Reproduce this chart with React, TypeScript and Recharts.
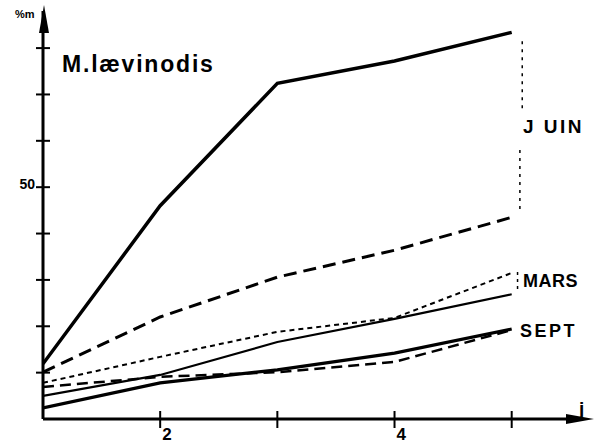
import React from "react";
import { LineChart, Line, XAxis, YAxis, ReferenceLine } from "recharts";

const DAYS = [1, 2, 3, 4, 5];
const JUIN_SOLID = [11.9, 46, 72.4, 77.2, 83.4];
const JUIN_DASHED = [10.1, 22, 30.6, 36.4, 43.5];
const MARS_DOTTED = [7.8, 13.4, 18.8, 21.8, 31.5];
const MARS_SOLID = [5.0, 9.5, 16.6, 21.6, 26.9];
const SEPT_SOLID = [2.4, 7.8, 10.6, 14.2, 19.4];
const SEPT_DASHED = [6.9, 9.1, 10.1, 12.3, 19.2];

const Y_TICKS = [10, 20, 30, 40, 50, 60, 70, 80];
const X_TICKS = [2, 3, 4, 5];
const X_LABELS: Record<number, string> = { 2: "2", 4: "4" };
const Y_LABELS: Record<number, string> = { 50: "50" };

const data = DAYS.map((d, i) => ({
  day: d,
  juinSolid: JUIN_SOLID[i],
  juinDashed: JUIN_DASHED[i],
  marsDotted: MARS_DOTTED[i],
  marsSolid: MARS_SOLID[i],
  septSolid: SEPT_SOLID[i],
  septDashed: SEPT_DASHED[i]
}));

const FONT = "'Liberation Sans', Arial, sans-serif";

const XTick = (props: any) => {
  const { x, y, payload } = props;
  const label = X_LABELS[payload.value];
  return (
    <g>
      <line x1={x} x2={x} y1={y - 8} y2={y + 9} stroke="#000" strokeWidth={2} />
      {label && (
        <text x={x + 2} y={y + 21} fontSize={17} fontWeight="bold" fontFamily={FONT} fill="#000">
          {label}
        </text>
      )}
    </g>
  );
};

const YTick = (props: any) => {
  const { x, y, payload } = props;
  const label = Y_LABELS[payload.value];
  return (
    <g>
      <line x1={x - 7} x2={x + 7} y1={y} y2={y} stroke="#000" strokeWidth={2} />
      {label && (
        <text x={x - 8} y={y + 2} textAnchor="end" fontSize={14} fontWeight="bold" fontFamily={FONT} fill="#000">
          {label}
        </text>
      )}
    </g>
  );
};

export default function App() {
  return (
    <div style={{ position: "absolute", left: 0, top: 0, width: 603, height: 443, background: "#fff" }}>
      <LineChart
        width={603}
        height={443}
        data={data}
        margin={{ top: 11, right: 21, bottom: 23, left: 42 }}
      >
        <XAxis
          type="number"
          dataKey="day"
          domain={[1, 5.6]}
          ticks={X_TICKS}
          allowDataOverflow
          height={1}
          tickSize={0}
          tickMargin={0}
          tickLine={false}
          tick={<XTick />}
          axisLine={{ stroke: "#000", strokeWidth: 3 }}
        />
        <YAxis
          type="number"
          domain={[0, 88]}
          ticks={Y_TICKS}
          allowDataOverflow
          width={1}
          tickSize={0}
          tickMargin={0}
          tickLine={false}
          tick={<YTick />}
          axisLine={{ stroke: "#000", strokeWidth: 3 }}
        />
        <ReferenceLine
          segment={[{ x: 5.09, y: 81.5 }, { x: 5.09, y: 66.6 }]}
          stroke="#000"
          strokeWidth={1.5}
          strokeDasharray="3 5"
        />
        <ReferenceLine
          segment={[{ x: 5.07, y: 58 }, { x: 5.07, y: 44.6 }]}
          stroke="#000"
          strokeWidth={1.5}
          strokeDasharray="3 5"
        />
        <ReferenceLine
          segment={[{ x: 5.05, y: 31.7 }, { x: 5.05, y: 27.4 }]}
          stroke="#000"
          strokeWidth={1.5}
          strokeDasharray="3 4"
        />
        <Line dataKey="juinSolid" stroke="#000" strokeWidth={3.5} dot={false} isAnimationActive={false} />
        <Line dataKey="juinDashed" stroke="#000" strokeWidth={3} strokeDasharray="13 7" dot={false} isAnimationActive={false} />
        <Line dataKey="marsDotted" stroke="#000" strokeWidth={2} strokeDasharray="5 4" dot={false} isAnimationActive={false} />
        <Line dataKey="marsSolid" stroke="#000" strokeWidth={2.2} dot={false} isAnimationActive={false} />
        <Line dataKey="septSolid" stroke="#000" strokeWidth={3.2} dot={false} isAnimationActive={false} />
        <Line dataKey="septDashed" stroke="#000" strokeWidth={2.5} strokeDasharray="11 6" dot={false} isAnimationActive={false} />
      </LineChart>
      <svg
        width={603}
        height={443}
        style={{ position: "absolute", left: 0, top: 0, pointerEvents: "none" }}
      >
        <polygon points="44,5 39,33 49,33" fill="#000" />
        <polygon points="594,419 566,414 566,424" fill="#000" />
        <g fontFamily={FONT} fontWeight="bold" fill="#000">
          <text x={15} y={18} fontSize={11}>%m</text>
          <text x={62} y={72} fontSize={23} letterSpacing={1.8}>M.lævinodis</text>
          <text x={579} y={415} fontSize={19}>j</text>
          <text x={523} y={133} fontSize={19} letterSpacing={2.5}>J UIN</text>
          <text x={523} y={287} fontSize={18} letterSpacing={0.5}>MARS</text>
          <text x={520} y={337} fontSize={18} letterSpacing={2.5}>SEPT</text>
        </g>
      </svg>
    </div>
  );
}
